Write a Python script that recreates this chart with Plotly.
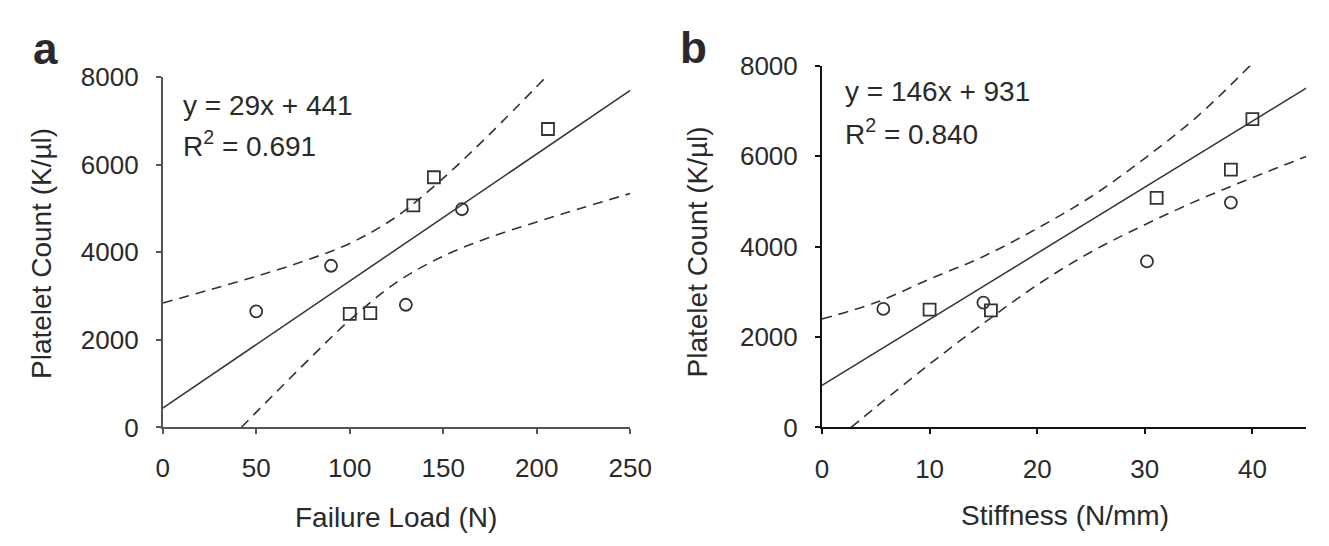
import plotly.graph_objects as go

# ---------------- data ----------------
# Panel a: Failure Load (N) vs Platelet Count (K/µl)
a_circle_x = [50, 90, 130, 160]
a_circle_y = [2650, 3690, 2800, 4980]
a_square_x = [100, 111, 134, 145, 206]
a_square_y = [2590, 2610, 5070, 5710, 6810]
a_fit_x = [0, 250]
a_fit_y = [441, 7691]
a_upper_x = [0, 25, 50, 75, 100, 125, 150, 175, 205]
a_upper_y = [2840, 3140, 3450, 3790, 4200, 4810, 5690, 6700, 8000]
a_lower_x = [42, 60, 80, 100, 125, 150, 175, 200, 225, 250]
a_lower_y = [0, 780, 1630, 2450, 3310, 3910, 4340, 4690, 5020, 5340]

# Panel b: Stiffness (N/mm) vs Platelet Count (K/µl)
b_circle_x = [5.7, 15.0, 30.2, 38.0]
b_circle_y = [2620, 2760, 3670, 4970]
b_square_x = [10.0, 15.7, 31.1, 38.0, 40.0]
b_square_y = [2605, 2590, 5076, 5700, 6817]
b_fit_x = [0, 45]
b_fit_y = [931, 7501]
b_upper_x = [0, 5, 10, 15, 20, 25, 30, 35, 39.8]
b_upper_y = [2400, 2760, 3280, 3780, 4400, 5100, 5950, 6900, 8000]
b_lower_x = [2.7, 5, 10, 15, 20, 25, 30, 35, 40, 45]
b_lower_y = [0, 450, 1400, 2300, 3150, 3880, 4480, 5030, 5520, 5990]

a_xticks = [0, 50, 100, 150, 200, 250]
b_xticks = [0, 10, 20, 30, 40]
yticks = [0, 2000, 4000, 6000, 8000]

a_eq = ["y = 29x + 441", "R<sup>2</sup> = 0.691"]
b_eq = ["y = 146x + 931", "R<sup>2</sup> = 0.840"]

# ---------------- figure ----------------
W, H = 1329, 546
FONT = "Arial, 'Liberation Sans', sans-serif"
INK = "#2a2a2a"
LINE = "#333333"

def px_x(p):
    return p / W

def px_y(p):
    return 1 - p / H

fig = go.Figure()

def add_panel(xa, ya, cx, cy, sx, sy, fx, fy, ux, uy, lx, ly):
    for bx, by in ((ux, uy), (lx, ly)):
        fig.add_trace(go.Scatter(x=bx, y=by, mode="lines", xaxis=xa, yaxis=ya,
                                 line=dict(color=LINE, width=1.6, dash="10px,7px", shape="spline",
                                           smoothing=1.0),
                                 showlegend=False, hoverinfo="skip"))
    fig.add_trace(go.Scatter(x=fx, y=fy, mode="lines", xaxis=xa, yaxis=ya,
                             line=dict(color=LINE, width=1.5),
                             showlegend=False, hoverinfo="skip"))
    fig.add_trace(go.Scatter(x=cx, y=cy, mode="markers", xaxis=xa, yaxis=ya,
                             marker=dict(symbol="circle-open", size=12, color=LINE,
                                         line=dict(width=1.8, color=LINE)),
                             showlegend=False))
    fig.add_trace(go.Scatter(x=sx, y=sy, mode="markers", xaxis=xa, yaxis=ya,
                             marker=dict(symbol="square-open", size=12, color=LINE,
                                         line=dict(width=1.8, color=LINE)),
                             showlegend=False))

add_panel("x", "y", a_circle_x, a_circle_y, a_square_x, a_square_y,
          a_fit_x, a_fit_y, a_upper_x, a_upper_y, a_lower_x, a_lower_y)
add_panel("x2", "y2", b_circle_x, b_circle_y, b_square_x, b_square_y,
          b_fit_x, b_fit_y, b_upper_x, b_upper_y, b_lower_x, b_lower_y)

tickfont = dict(family=FONT, size=26, color=INK)

def xaxis(dom, rng, ticks, anchor, lc, lw):
    return dict(domain=dom, range=rng, tickvals=ticks, ticktext=[str(t) for t in ticks],
                showgrid=False, zeroline=False, showline=True, linecolor=lc, linewidth=lw,
                ticks="outside", ticklen=5, tickwidth=lw, tickcolor=lc,
                tickfont=tickfont, anchor=anchor, ticklabelstandoff=12, fixedrange=True)

def yaxis(dom, anchor, lc, lw):
    return dict(domain=dom, range=[0, 8000], tickvals=yticks, ticktext=[str(t) for t in yticks],
                showgrid=False, zeroline=False, showline=True, linecolor=lc, linewidth=lw,
                ticks="outside", ticklen=5, tickwidth=lw, tickcolor=lc,
                tickfont=tickfont, anchor=anchor, ticklabelstandoff=12, fixedrange=True)

fig.update_layout(
    width=W, height=H,
    margin=dict(l=0, r=0, t=0, b=0),
    paper_bgcolor="white", plot_bgcolor="white",
    font=dict(family=FONT, color=INK),
    xaxis=xaxis([px_x(151), px_x(629)], [0, 250], a_xticks, "y", "#555555", 1.6),
    yaxis=yaxis([px_y(428), px_y(57)], "x", "#555555", 1.6),
    xaxis2=xaxis([px_x(825), px_x(1320)], [0, 45], b_xticks, "y2", "#111111", 2),
    yaxis2=yaxis([px_y(428), px_y(45)], "x2", "#111111", 2),
)

ann = []
def text(x, y, s, size, **kw):
    d = dict(x=px_x(x), y=px_y(y), xref="paper", yref="paper", text=s, showarrow=False,
             font=dict(family=FONT, size=size, color=INK))
    d.update(kw)
    ann.append(d)

# panel letters
text(31, 27, "<b>a</b>", 44, xanchor="center", yanchor="middle")
text(694, 26, "<b>b</b>", 44, xanchor="center", yanchor="middle")
# equations
text(170, 87, a_eq[0], 28, xanchor="left", yanchor="middle")
text(170, 128, a_eq[1], 28, xanchor="left", yanchor="middle")
text(846, 72, b_eq[0], 28, xanchor="left", yanchor="middle")
text(846, 115, b_eq[1], 28, xanchor="left", yanchor="middle")
# axis titles
text(390, 523, "Failure Load (N)", 28, xanchor="center", yanchor="middle")
text(1073, 521, "Stiffness (N/mm)", 28, xanchor="center", yanchor="middle")
text(27, 244, "Platelet Count (K/µl)", 28, xanchor="center", yanchor="middle", textangle=-90)
text(698, 242, "Platelet Count (K/µl)", 28, xanchor="center", yanchor="middle", textangle=-90)

fig.update_layout(annotations=ann)

fig.write_html("out.html")
